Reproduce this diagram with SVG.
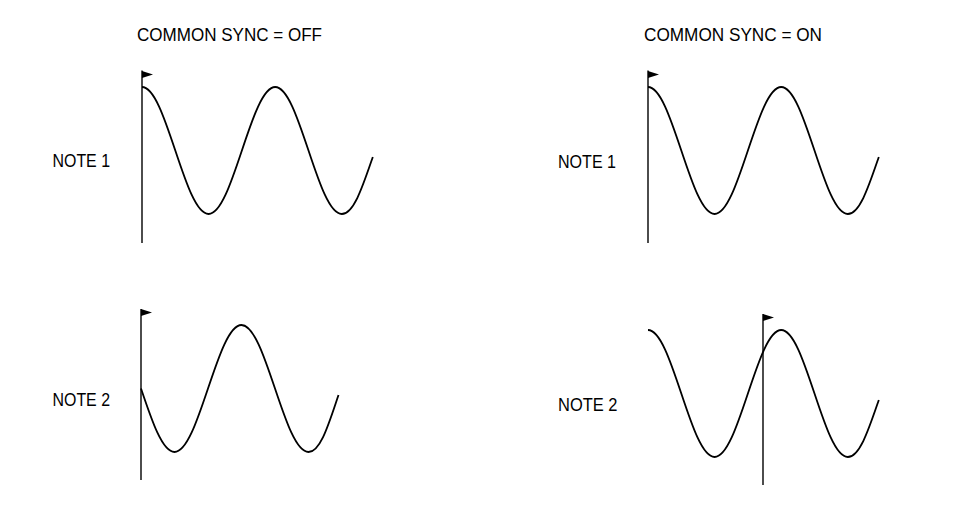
<svg xmlns="http://www.w3.org/2000/svg" width="955" height="520" viewBox="0 0 955 520">
<style>
.t{font-family:"Liberation Sans",Arial,sans-serif;font-size:18px;fill:#000}
.wave{fill:none;stroke:#000;stroke-width:1.8}
.sync{fill:none;stroke:#000;stroke-width:1.4}
.flag{fill:#000}
</style>
<rect width="955" height="520" fill="#fff"/>
<g id="titles">
<text class="t" x="137" y="41" textLength="185" lengthAdjust="spacingAndGlyphs">COMMON SYNC = OFF</text>
<text class="t" x="644" y="41" textLength="178" lengthAdjust="spacingAndGlyphs">COMMON SYNC = ON</text>
</g>
<g id="labels">
<text class="t" x="52.5" y="167" textLength="57.5" lengthAdjust="spacingAndGlyphs">NOTE 1</text>
<text class="t" x="52.5" y="406" textLength="57.5" lengthAdjust="spacingAndGlyphs">NOTE 2</text>
<text class="t" x="558" y="167.5" textLength="58" lengthAdjust="spacingAndGlyphs">NOTE 1</text>
<text class="t" x="558" y="411" textLength="59.5" lengthAdjust="spacingAndGlyphs">NOTE 2</text>
</g>
<g id="off-note1">
<path class="wave" d="M142,87 c12.05,0 22.44,30.97 33.3,63.5 s21.25,63.5 33.3,63.5 s22.44,-30.97 33.3,-63.5 s21.25,-63.5 33.3,-63.5 s22.44,30.97 33.3,63.5 s21.25,63.5 33.3,63.5 s21,-28 31,-57"/>
<line class="sync" x1="142" y1="70.5" x2="142" y2="243"/>
<polygon class="flag" points="142,71 153,74.5 142,78"/>
</g>
<g id="off-note2">
<path class="wave" d="M141,388.5 c10.92,32.53 21.38,63.5 33.5,63.5 s22.58,-30.97 33.5,-63.5 s21.38,-63.5 33.5,-63.5 s22.58,30.97 33.5,63.5 s21.38,63.5 33.5,63.5 s20.5,-29 30,-57"/>
<line class="sync" x1="141" y1="309" x2="141" y2="480"/>
<polygon class="flag" points="141,309 152,312.5 141,316"/>
</g>
<g id="on-note1">
<path class="wave" d="M648,87 c12.05,0 22.44,30.97 33.3,63.5 s21.25,63.5 33.3,63.5 s22.44,-30.97 33.3,-63.5 s21.25,-63.5 33.3,-63.5 s22.44,30.97 33.3,63.5 s21.25,63.5 33.3,63.5 s21,-28 31,-57"/>
<line class="sync" x1="648" y1="70.5" x2="648" y2="243"/>
<polygon class="flag" points="648,71 659,74.5 648,78"/>
</g>
<g id="on-note2">
<path class="wave" d="M648,330 c12.05,0 22.44,30.97 33.3,63.5 s21.25,63.5 33.3,63.5 s22.44,-30.97 33.3,-63.5 s21.25,-63.5 33.3,-63.5 s22.44,30.97 33.3,63.5 s21.25,63.5 33.3,63.5 s21,-28 31,-57"/>
<line class="sync" x1="763" y1="314" x2="763" y2="485"/>
<polygon class="flag" points="763,314 774,317.5 763,321"/>
</g>
</svg>
